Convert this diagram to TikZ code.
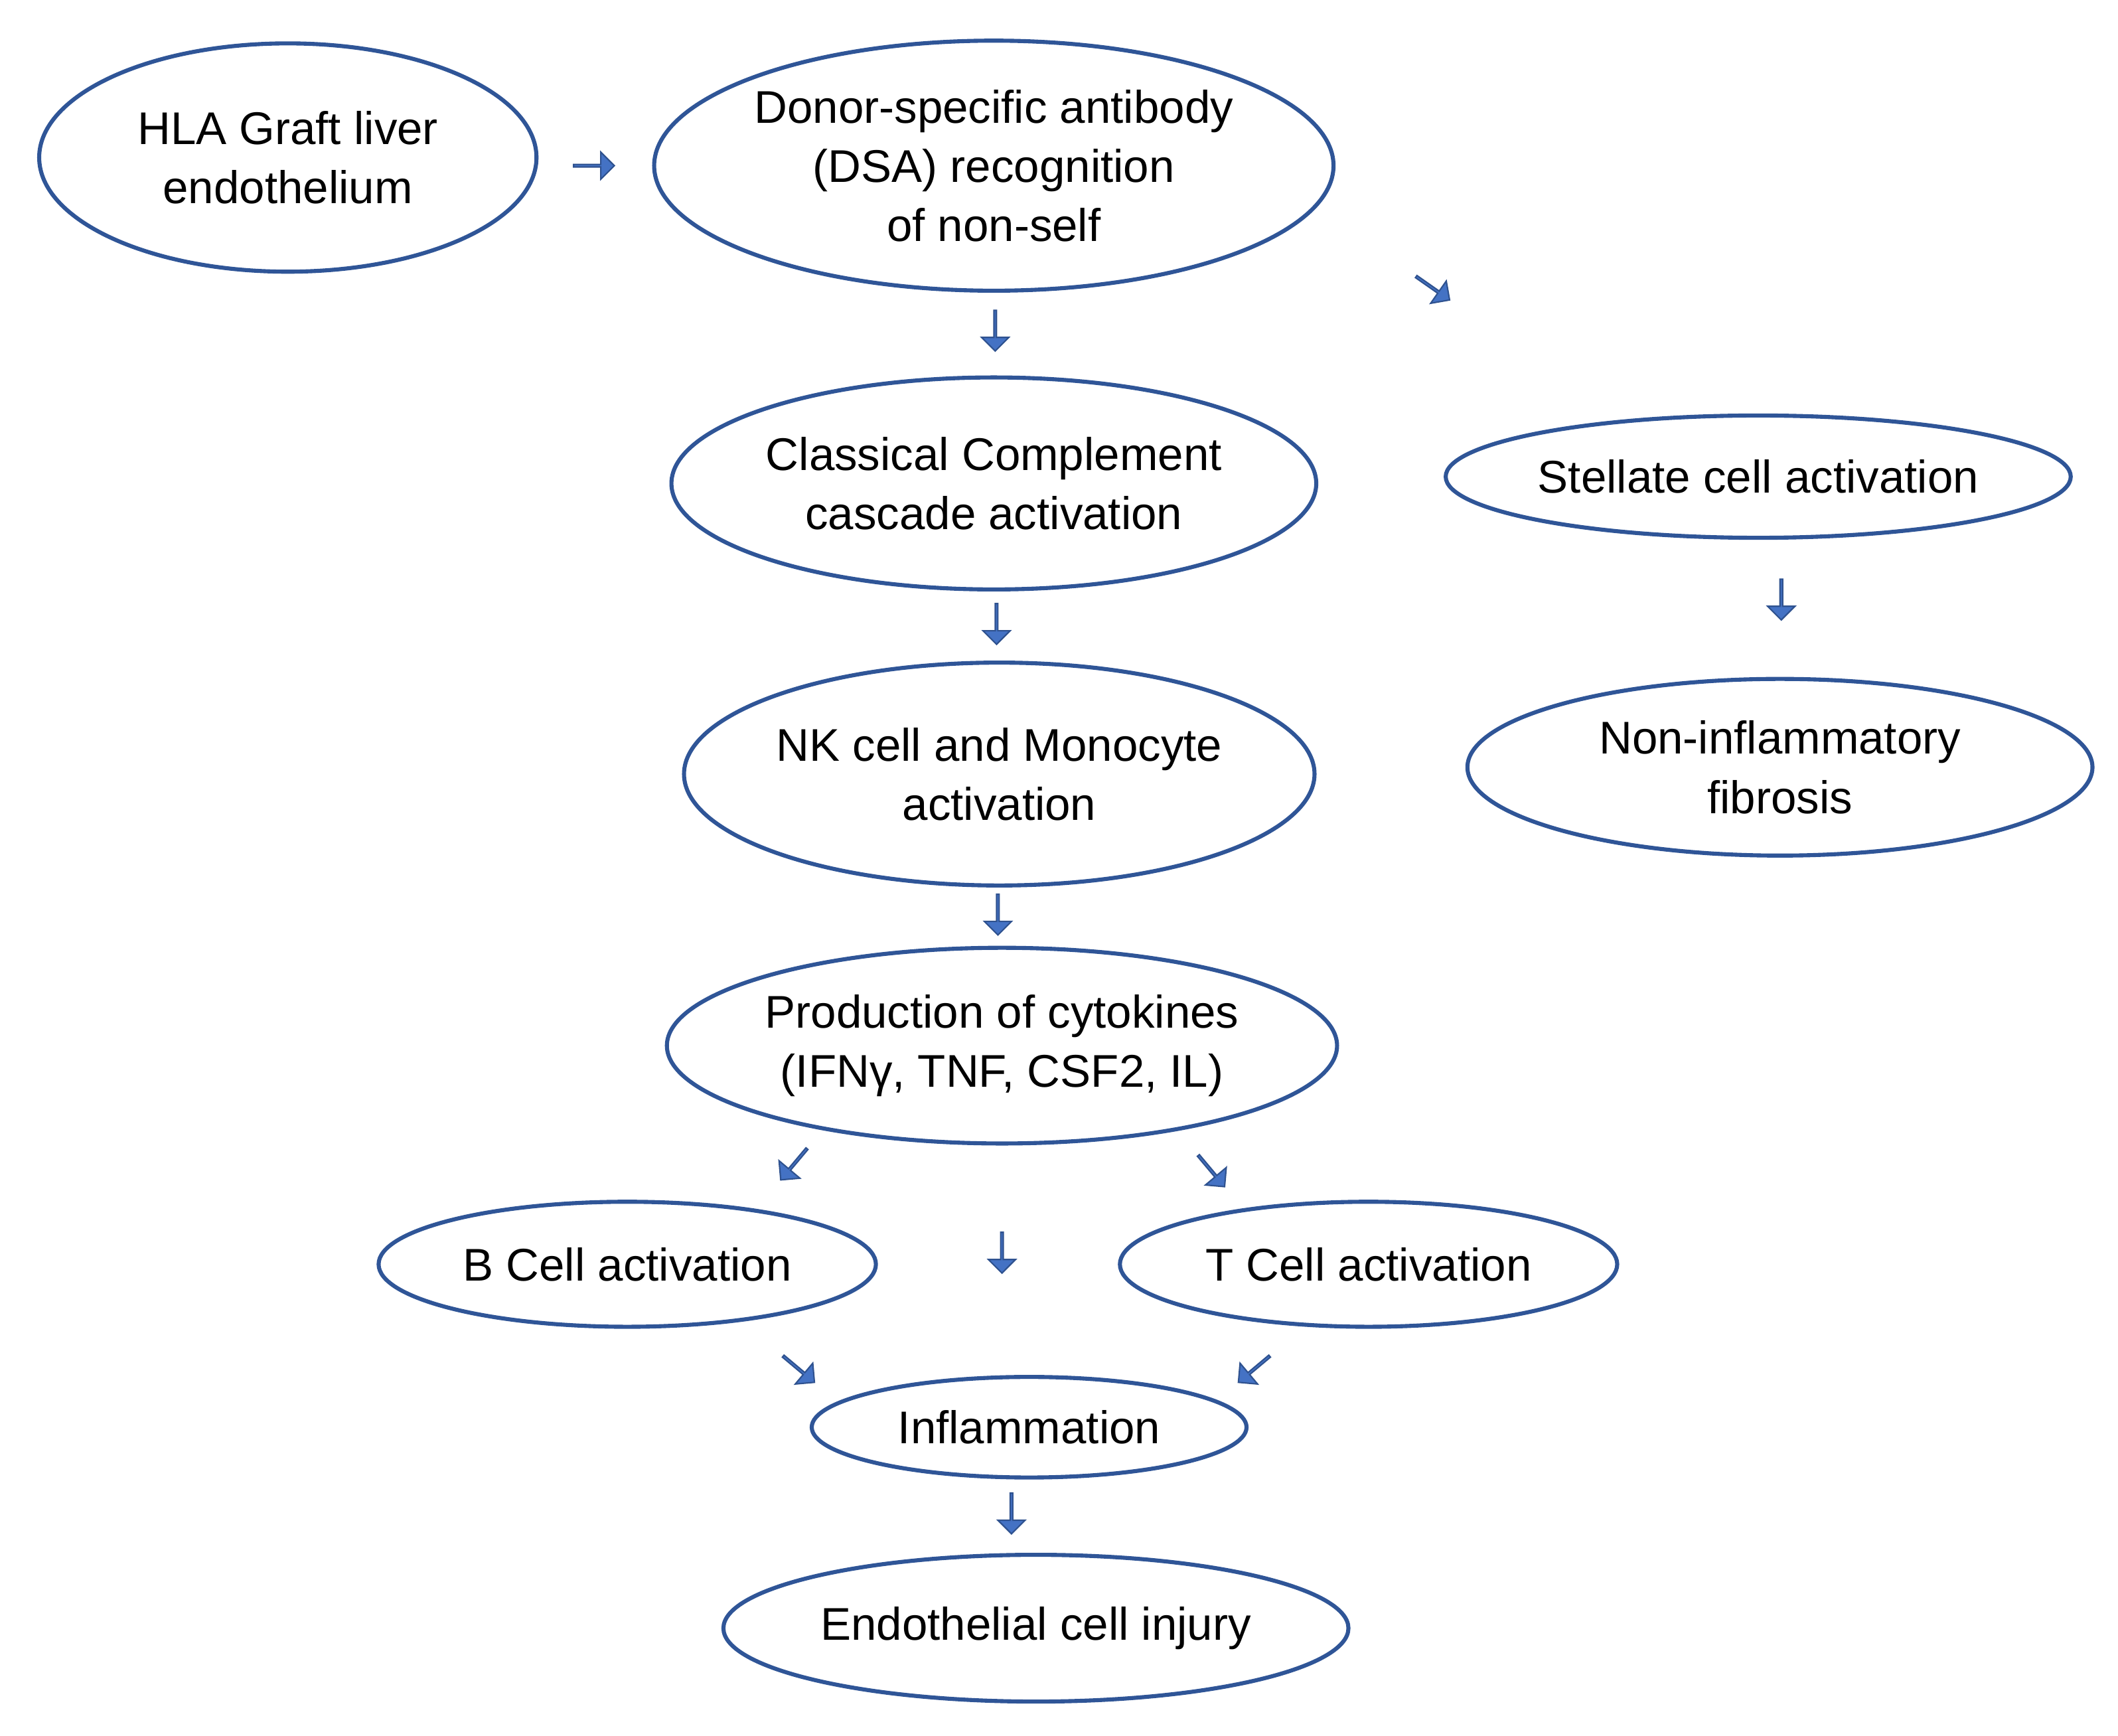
\documentclass[tikz,border=0pt]{standalone}
\usepackage{fontspec}
\setmainfont{Liberation Sans}
\usetikzlibrary{shapes.geometric,shapes.arrows}
\definecolor{edge}{HTML}{2F5597}
\definecolor{arr}{HTML}{4472C4}
\definecolor{arrd}{HTML}{2F528F}
\begin{document}
\begin{tikzpicture}[x=0.01cm,y=-0.01cm,
  ell/.style 2 args={ellipse,draw=edge,line width=0.85pt,inner sep=0pt,
    minimum width=#1*0.02cm,minimum height=#2*0.02cm,align=center,
    font=\fontsize{9.6}{12.4}\selectfont},
  ar/.style={single arrow,fill=arr,draw=arrd,line width=0.3pt,inner sep=0pt,
    minimum height=0.3cm,minimum width=0.2cm,single arrow head extend=0.05cm,
    rotate=#1},
  ar/.default=0]
\useasboundingbox (0,0) rectangle (1560,1278);
\node[ell={183}{84}] (hla) at (212,116) {HLA Graft liver\\endothelium};
\node[ell={250}{92}] (dsa) at (732,122) {Donor-specific antibody\\(DSA) recognition\\of non-self};
\node[ell={230}{78}] (cc) at (732,356) {Classical Complement\\cascade activation};
\node[ell={230}{45}] (st) at (1295,351) {Stellate cell activation};
\node[ell={230}{82}] (nk) at (736,570) {NK cell and Monocyte\\activation};
\node[ell={230}{65}] (nf) at (1311,565) {Non-inflammatory\\fibrosis};
\node[ell={230}{72}] (pc) at (738,770) {Production of cytokines\\(IFNγ, TNF, CSF2, IL)};
\node[ell={183}{46}] (bc) at (462,931) {B Cell activation};
\node[ell={183}{46}] (tc) at (1008,931) {T Cell activation};
\node[ell={160}{37}] (inf) at (758,1051) {Inflammation};
\node[ell={230}{54}] (ec) at (763,1199) {Endothelial cell injury};
\node[ar=0] (a1) at (437,122) {};
\node[ar=-35] (a2) at (1055,212) {};
\node[ar=-90] (a3) at (733,243) {};
\node[ar=-90] (a4) at (734,459) {};
\node[ar=-90] (a5) at (1312,441) {};
\node[ar=-90] (a6) at (735,673) {};
\node[ar=-130] (a7) at (585,857) {};
\node[ar=-50] (a8) at (892,862) {};
\node[ar=-90] (a9) at (738,922) {};
\node[ar=-40] (a10) at (588,1008) {};
\node[ar=-140] (a11) at (924,1008) {};
\node[ar=-90] (a12) at (745,1114) {};
\end{tikzpicture}
\end{document}
